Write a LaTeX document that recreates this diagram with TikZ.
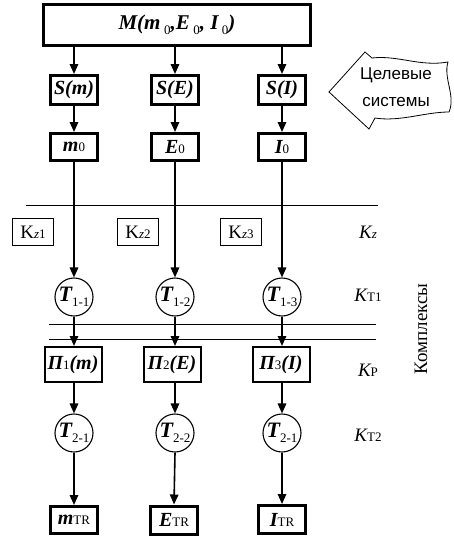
\documentclass[tikz,border=0pt]{standalone}
\usepackage{fontspec}
\setmainfont{Liberation Serif}
\newfontfamily\sansf{Liberation Sans}
\usetikzlibrary{arrows.meta}
\newcommand{\bigbi}{\fontsize{20}{22}\selectfont\bfseries\itshape}
\newcommand{\smr}[1]{{\fontsize{13}{13}\selectfont\mdseries\upshape #1}}
\newcommand{\lowr}[1]{\raisebox{-5pt}{\fontsize{13}{13}\selectfont\mdseries\upshape #1}}
\begin{document}
\begin{tikzpicture}[x=1pt,y=-1pt,
  heavybox/.style={draw, line width=3pt, inner sep=0pt, font=\bigbi},
  midbox/.style={draw, line width=2pt, inner sep=0pt, minimum width=57pt, minimum height=35pt, font=\bigbi},
  kzbox/.style={draw, line width=1.1pt, inner sep=0pt, minimum width=41pt, minimum height=27pt, font=\fontsize{19}{20}\selectfont},
  tcirc/.style={draw, circle, line width=1.1pt, inner sep=0pt, minimum size=38pt, font=\fontsize{22}{22}\selectfont\bfseries\itshape},
  sbox/.style={heavybox, minimum width=47pt, minimum height=29pt},
  vbox/.style={heavybox, minimum width=47pt, minimum height=27pt},
  arr/.style={-{Triangle[length=10pt,width=8.5pt]}, line width=1.6pt},
  sep/.style={line width=0.9pt},
  rlabel/.style={font=\fontsize{19}{20}\selectfont\itshape}
]
\useasboundingbox (0,0) rectangle (453,549);

% top box
\node[heavybox, minimum width=267pt, minimum height=41pt, font=\fontsize{21}{22}\selectfont\bfseries\itshape] (M) at (177,25)
  {M(m\,\lowr{0},E\,\lowr{0}, I\,\lowr{0})};

% S boxes
\node[sbox] (S1) at (74,90) {S(m)};
\node[sbox] (S2) at (175,90) {S(E)};
\node[sbox] (S3) at (282,90) {S(I)};

% second row
\node[vbox] (V1) at (74,147) {m\smr{0}};
\node[vbox] (V2) at (175,147) {E\smr{0}};
\node[vbox] (V3) at (282,147) {I\smr{0}};

% separator line
\draw[sep] (26,205) -- (378,205);

% Kz boxes
\node[kzbox] (K1) at (33,232) {K\smr{\itshape z}\smr{1}};
\node[kzbox] (K2) at (138,232) {K\smr{\itshape z}\smr{2}};
\node[kzbox] (K3) at (241,232) {K\smr{\itshape z}\smr{3}};

% T1 circles
\node[tcirc] (T11) at (74,297) {T\lowr{1-1}};
\node[tcirc] (T12) at (175,297) {T\lowr{1-2}};
\node[tcirc] (T13) at (282,297) {T\lowr{1-3}};

% double lines
\draw[sep] (49,324) -- (376,324);
\draw[sep] (49,339) -- (376,339);

% Pi boxes
\node[midbox] (P1) at (73,364.5) {Π\smr{1}(m)};
\node[midbox] (P2) at (172,364.5) {Π\smr{2}(E)};
\node[midbox] (P3) at (281,364.5) {Π\smr{3}(I)};

% T2 circles
\node[tcirc] (T21) at (74,433) {T\lowr{2-1}};
\node[tcirc] (T22) at (175,433) {T\lowr{2-2}};
\node[tcirc] (T23) at (282,433) {T\lowr{2-1}};

% bottom boxes
\node[vbox, minimum height=27pt] (B1) at (74,520) {m\smr{TR}};
\node[vbox, minimum height=28pt] (B2) at (174,520) {E\smr{TR}};
\node[vbox, minimum height=28pt] (B3) at (282,519.5) {I\smr{TR}};

% right labels
\node[rlabel] (LZ) at (368,232) {K\smr{\itshape z}};
\node[rlabel] (LT1) at (368,295) {K\smr{T1}};
\node[rlabel] (LP) at (368,370) {K\smr{P}};
\node[rlabel] (LT2) at (368,435) {K\smr{T2}};

% rotated label
\node[rotate=90, font=\fontsize{19}{19}\selectfont] (kom) at (421,329) {Комплексы};

% target systems arrow
\draw[line width=0.8pt] (329,92) -- (365,52) -- (372,58)
  .. controls (398,55) and (420,67) .. (448,62)
  .. controls (443,78) and (456,96) .. (449,112)
  .. controls (425,112) and (400,122) .. (375,118)
  -- (369,129) -- cycle;
\node[font=\sansf\fontsize{17}{27}\selectfont, align=center] (tsys) at (396,87) {Целевые\\системы};

% connectors
\foreach \s/\t in {S1/M, S2/M, S3/M}
  \draw[arr] (\t.south -| \s.north) -- (\s.north);
\foreach \a/\b in {S1/V1, S2/V2, S3/V3, V1/T11, V2/T12, V3/T13,
                   T21/B1, T22/B2, T23/B3}
  \draw[arr] (\a.south) -- (\b.north);
\foreach \a/\b in {T11/P1, T12/P2, T13/P3}
  \draw[arr] (\a.south) -- (\a.south |- \b.north);
\foreach \a/\b in {P1/T21, P2/T22, P3/T23}
  \draw[arr] (\a.south -| \b.north) -- (\b.north);
\end{tikzpicture}
\end{document}
